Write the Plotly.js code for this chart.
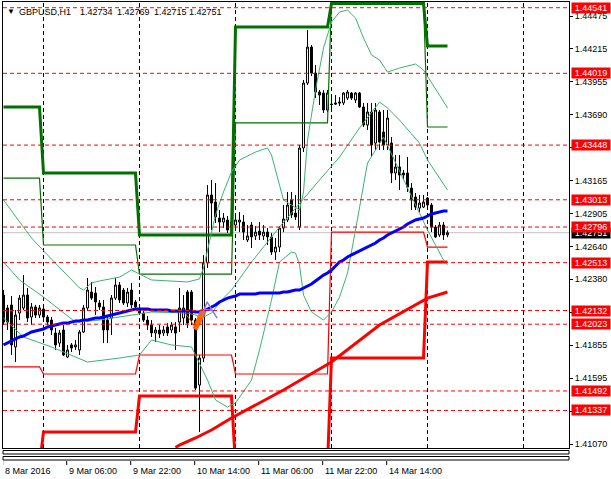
<!DOCTYPE html>
<html><head><meta charset="utf-8">
<script src="https://cdn.plot.ly/plotly-3.0.1.min.js"></script>
<style>html,body{margin:0;padding:0;background:#fff}#chart{width:611px;height:479px}</style>
</head><body><div id="chart"></div>
<script>
// ---- candle data (GBPUSD H1, bar 0 = 8 Mar 2016 14:00) ----
const open = [1.42255,1.42152,1.42176,1.41842,1.42112,1.42152,1.42255,1.42080,1.42160,1.42096,
1.42144,1.42080,1.42056,1.41953,1.41873,1.41977,1.41762,1.41858,1.41842,1.41818,
1.41961,1.42152,1.42279,1.42271,1.42192,1.42160,1.42056,1.42072,1.42231,1.42335,
1.42295,1.42192,1.42295,1.42200,1.42144,1.42112,1.42056,1.42016,1.41953,1.41977,
1.41953,1.42001,1.41977,1.42001,1.42040,1.42072,1.42279,1.42279,1.42056,1.41539,
1.41754,1.42510,1.43051,1.42995,1.42868,1.42836,1.42852,1.42836,1.42812,1.42836,
1.42836,1.42693,1.42812,1.42725,1.42764,1.42725,1.42756,1.42717,1.42597,1.42637,
1.42788,1.42852,1.43011,1.42907,1.42796,1.43425,1.43942,1.44228,1.44021,1.43870,
1.43862,1.43727,1.43775,1.43783,1.43791,1.43783,1.43822,1.43862,1.43807,1.43862,
1.43751,1.43608,1.43711,1.43464,1.43711,1.43552,1.43449,1.43464,1.43226,1.43274,
1.43226,1.43226,1.43106,1.43035,1.42947,1.42955,1.43027,1.42971,1.42796,1.42733,
1.42812,1.42734];
const high = [1.42295,1.42176,1.42247,1.42136,1.42255,1.42414,1.42311,1.42192,1.42176,1.42176,
1.42176,1.42096,1.42080,1.41993,1.41977,1.42016,1.41858,1.41873,1.41897,1.41977,
1.42176,1.42391,1.42359,1.42319,1.42216,1.42216,1.42096,1.42255,1.42391,1.42359,
1.42311,1.42311,1.42351,1.42216,1.42176,1.42136,1.42088,1.42056,1.42001,1.42016,
1.42009,1.42032,1.42040,1.42040,1.42311,1.42255,1.42295,1.42295,1.42072,1.41778,
1.42573,1.43130,1.43170,1.43146,1.42931,1.42907,1.42884,1.42915,1.42884,1.42915,
1.42892,1.42812,1.42836,1.42804,1.42836,1.42812,1.42788,1.42748,1.42709,1.42804,
1.42971,1.43075,1.43075,1.43051,1.43449,1.43966,1.44363,1.44244,1.44085,1.43886,
1.43886,1.43886,1.43830,1.43846,1.43830,1.43870,1.43886,1.43870,1.43870,1.43870,
1.43783,1.43783,1.43783,1.43783,1.43727,1.43727,1.43727,1.43512,1.43369,1.43369,
1.43250,1.43353,1.43146,1.43067,1.43051,1.43051,1.43035,1.42987,1.42812,1.42836,
1.42836,1.42769];
const low = [1.42016,1.41977,1.41778,1.41722,1.42056,1.42136,1.42040,1.42016,1.42072,1.42072,
1.42056,1.42016,1.41937,1.41818,1.41842,1.41770,1.41754,1.41802,1.41818,1.41778,
1.41953,1.42136,1.42216,1.42096,1.42136,1.41873,1.41873,1.41937,1.42216,1.42192,
1.42176,1.42160,1.42152,1.42136,1.42096,1.42040,1.41977,1.41921,1.41881,1.41913,
1.41929,1.41929,1.41953,1.41818,1.41961,1.42016,1.41993,1.42016,1.41500,1.41165,
1.41722,1.42470,1.42772,1.42828,1.42756,1.42788,1.42749,1.42756,1.42788,1.42756,
1.42693,1.42677,1.42629,1.42693,1.42693,1.42693,1.42653,1.42574,1.42534,1.42597,
1.42756,1.42836,1.42868,1.42852,1.42772,1.43393,1.43926,1.43997,1.43822,1.43767,
1.43703,1.43711,1.43711,1.43767,1.43759,1.43767,1.43807,1.43807,1.43783,1.43743,
1.43592,1.43568,1.43353,1.43409,1.43409,1.43409,1.43409,1.43146,1.43170,1.43091,
1.43170,1.43075,1.42931,1.42931,1.42915,1.42947,1.42947,1.42756,1.42709,1.42717,
1.42693,1.42715];
const close = [1.42040,1.42040,1.41858,1.42096,1.42231,1.42255,1.42072,1.42160,1.42096,1.42152,
1.42080,1.42040,1.41977,1.41858,1.41953,1.41778,1.41818,1.41834,1.41858,1.41961,
1.42152,1.42295,1.42231,1.42200,1.42160,1.41977,1.41977,1.42231,1.42335,1.42216,
1.42192,1.42279,1.42176,1.42160,1.42112,1.42056,1.42016,1.41953,1.41977,1.41945,
1.41977,1.41953,1.42016,1.41953,1.42152,1.42152,1.42032,1.42056,1.41515,1.41754,
1.42510,1.43051,1.42987,1.42876,1.42836,1.42868,1.42772,1.42788,1.42852,1.42852,
1.42756,1.42725,1.42717,1.42756,1.42733,1.42756,1.42717,1.42597,1.42637,1.42788,
1.42860,1.42971,1.42892,1.42876,1.43425,1.43942,1.44228,1.44021,1.43870,1.43846,
1.43727,1.43862,1.43771,1.43775,1.43783,1.43862,1.43870,1.43822,1.43862,1.43751,
1.43608,1.43711,1.43449,1.43727,1.43472,1.43449,1.43663,1.43226,1.43274,1.43210,
1.43210,1.43114,1.43011,1.42955,1.42987,1.42995,1.42971,1.42796,1.42717,1.42812,
1.42733,1.42751];

// ---- moving average (blue), one value per bar ----
const maBlue = [1.41858,1.41873,1.41889,1.41905,1.41921,1.41929,1.41945,1.41961,1.41969,1.41977,
1.41985,1.42001,1.42009,1.42017,1.42025,1.42032,1.42032,1.42040,1.42048,1.42048,
1.42056,1.42056,1.42064,1.42072,1.42072,1.42080,1.42088,1.42096,1.42104,1.42112,
1.42120,1.42128,1.42136,1.42144,1.42144,1.42144,1.42144,1.42136,1.42136,1.42136,
1.42136,1.42136,1.42128,1.42128,1.42128,1.42128,1.42128,1.42128,1.42120,1.42120,
1.42128,1.42144,1.42160,1.42176,1.42200,1.42216,1.42231,1.42239,1.42247,1.42263,
1.42263,1.42263,1.42263,1.42263,1.42271,1.42271,1.42271,1.42271,1.42271,1.42271,
1.42279,1.42279,1.42287,1.42295,1.42295,1.42311,1.42327,1.42343,1.42367,1.42391,
1.42414,1.42430,1.42454,1.42486,1.42518,1.42534,1.42558,1.42574,1.42589,1.42605,
1.42621,1.42637,1.42653,1.42669,1.42693,1.42709,1.42733,1.42749,1.42764,1.42780,
1.42796,1.42820,1.42836,1.42852,1.42860,1.42868,1.42884,1.42900,1.42908,1.42916,
1.42924,1.42924];

// ---- moving average (red), read at these bars ----
const maRedBars = [43,44,48,52,57,62,70,82,94,106,111];
const maRedVals = [1.41042,1.41062,1.41118,1.41181,1.41277,1.41364,1.41500,1.41722,1.42017,1.42231,1.42279];

// ---- Bollinger-type bands, read at these bars ----
const bbUpBars = [0,7,11,19,20,22,24,27,29,32,37,46,49,50,51,52,53,55,57,59,63,66,67,69,70,72,74,75,76,78,80,82,84,86,88,90,92,94,96,99,103,105,107,109,111];
const bbUpVals = [1.43011,1.42709,1.42574,1.42311,1.42295,1.42351,1.42367,1.42383,1.42398,1.42454,1.42375,1.42359,1.42383,1.42470,1.42613,1.42756,1.42892,1.43075,1.43234,1.43329,1.43393,1.43425,1.43369,1.43130,1.43011,1.42971,1.42931,1.43075,1.43488,1.43886,1.44220,1.44427,1.44507,1.44522,1.44459,1.44300,1.44165,1.44125,1.44029,1.44061,1.44093,1.44045,1.43950,1.43846,1.43743];
const bbMidBars = [0,4,10,14,18,24,32,37,46,50,52,55,57,62,69,74,79,84,89,94,96,99,104,106,110,111];
const bbMidVals = [1.42518,1.42375,1.42239,1.42136,1.42040,1.42056,1.42096,1.42120,1.42112,1.42080,1.42112,1.42231,1.42295,1.42518,1.42796,1.42987,1.43170,1.43353,1.43584,1.43790,1.43743,1.43647,1.43464,1.43329,1.43130,1.43091];
const bbLowBars = [0,5,12,21,29,34,37,42,47,49,51,53,56,58,62,64,67,69,72,73,74,75,77,80,82,84,86,88,91,95,102,106,110,111];
const bbLowVals = [1.42072,1.41921,1.41842,1.41722,1.41754,1.41778,1.41897,1.41858,1.41842,1.41714,1.41579,1.41420,1.41364,1.41396,1.41579,1.41818,1.42216,1.42518,1.42597,1.42589,1.42494,1.42255,1.42120,1.42056,1.42120,1.42239,1.42430,1.42772,1.43305,1.43512,1.43035,1.42772,1.42534,1.42494];

// ---- daily pivot-style levels (first bar of each day) ----
const dayStart = [0,10,34,58,82,106];
const levelR2 = [1.43751,1.43226,1.42733,1.44387,1.44574,1.44236];
const levelR1 = [1.43186,1.42653,1.42422,1.43624,1.44600,1.43592];
const levelS1 = [1.41683,1.41627,1.41778,1.41627,1.42756,1.42637];
const levelS2 = [1.40900,1.41165,1.41452,1.40900,1.41754,1.42518];

// ---- horizontal price levels and labels ----
const hLevels = [1.44541,1.44019,1.43448,1.43013,1.42796,1.42513,1.42132,1.42023,1.41492,1.41337];
const bidPrice = 1.42751;
const yTicks = [1.44475,1.44215,1.43955,1.43690,1.43430,1.43165,1.42905,1.42640,1.42380,1.42120,1.41855,1.41595,1.41330,1.41070];
const yTickShown = [1,1,1,1,0,1,1,1,1,0,1,1,0,1];
const timeTickBars = [0,16,32,48,64,80,96];
const timeTickLabels = ['8 Mar 2016','9 Mar 06:00','9 Mar 22:00','10 Mar 14:00','11 Mar 06:00','11 Mar 22:00','14 Mar 14:00'];
const daySepBars = [10,34,58,82,106,130];
const headerTexts = ['\u25BC','GBPUSD,H1','1.42734','1.42769','1.42715','1.42751'];

// ---- small drawn objects ----
const orangeLineX = [45.4,47.9]; const orangeLineY = [1.42112,1.42001];
const orangeFillX = [47.4,48.4,50.6,49.4,47.4]; const orangeFillY = [1.41993,1.41977,1.42120,1.42144,1.41993];
const purpleX = [49.6,50.9,53.4,null,50.1,52.6]; const purpleY = [1.42096,1.42200,1.42072,null,1.42144,1.42128];

const FONT = "'Liberation Sans',Arial,sans-serif";
const FS = 9;
const bars = open.map((_, i) => i);
const nBars = open.length;

function stepLine(levels){
  const xs=[], ys=[];
  levels.forEach((v,k)=>{
    const a = dayStart[k];
    const b = k+1 < dayStart.length ? dayStart[k+1]-1 : nBars-1;
    xs.push(a,b); ys.push(v,v);
  });
  return {x:xs, y:ys};
}
const r2=stepLine(levelR2), r1=stepLine(levelR1), s1=stepLine(levelS1), s2=stepLine(levelS2);
const GREEN='#007000', BB='#3CB371';

const traces = [
  {type:'candlestick', x:bars, open:open, high:high, low:low, close:close,
   increasing:{line:{color:'#000',width:1}, fillcolor:'#fff'},
   decreasing:{line:{color:'#000',width:1}, fillcolor:'#000'},
   whiskerwidth:0},
  {type:'scatter', mode:'lines', x:r2.x, y:r2.y, line:{color:GREEN,width:3}},
  {type:'scatter', mode:'lines', x:r1.x, y:r1.y, line:{color:GREEN,width:1.2}},
  {type:'scatter', mode:'lines', x:s1.x, y:s1.y, line:{color:'#FF0000',width:1.2}},
  {type:'scatter', mode:'lines', x:s2.x, y:s2.y, line:{color:'#FF0000',width:3}},
  {type:'scatter', mode:'lines', x:bbUpBars, y:bbUpVals, line:{color:BB,width:1}},
  {type:'scatter', mode:'lines', x:bbMidBars, y:bbMidVals, line:{color:BB,width:1}},
  {type:'scatter', mode:'lines', x:bbLowBars, y:bbLowVals, line:{color:BB,width:1}},
  {type:'scatter', mode:'lines', x:maRedBars, y:maRedVals, line:{color:'#FF0000',width:3}},
  {type:'scatter', mode:'lines', x:bars, y:maBlue, line:{color:'#0000FF',width:3}},
  {type:'scatter', mode:'lines', x:orangeLineX, y:orangeLineY, line:{color:'#FF6600',width:1}},
  {type:'scatter', mode:'lines', x:orangeFillX, y:orangeFillY, fill:'toself', fillcolor:'#FF6600', line:{color:'#FF6600',width:1}},
  {type:'scatter', mode:'lines', x:purpleX, y:purpleY, line:{color:'#8877EE',width:1.5}, connectgaps:false}
].map(t=>Object.assign({showlegend:false, hoverinfo:'skip'}, t));

const pxH = 446; // plot height in px (for paper offsets)
const shapes = [];
daySepBars.forEach(b=>shapes.push({type:'line', xref:'x', yref:'paper', x0:b, x1:b, y0:0, y1:1,
  line:{color:'#000', width:1, dash:'4px,3px'}, layer:'below'}));
shapes.push({type:'line', xref:'paper', yref:'y', x0:0, x1:1, y0:bidPrice, y1:bidPrice,
  line:{color:'#C0C0C0', width:1}, layer:'below'});
hLevels.forEach(v=>shapes.push({type:'line', xref:'paper', yref:'y', x0:0, x1:1, y0:v, y1:v,
  line:{color:'#FF0000', width:1, dash:'4px,3px'}, layer:'above'}));
// collapsed sub-window frames below the chart
[[2.5,6],[8.5,12]].forEach(([a,b])=>shapes.push({type:'rect', xref:'paper', yref:'paper', x0:0, x1:1,
  y0:-a/pxH, y1:-b/pxH, line:{color:'#000', width:1}, fillcolor:'rgba(0,0,0,0)'}));
timeTickBars.forEach(b=>shapes.push({type:'line', xref:'x', yref:'paper', x0:b-0.2, x1:b-0.2,
  y0:-13/pxH, y1:-17/pxH, line:{color:'#000', width:1}}));

const annotations = [];
// header pieces (left edges in px)
const headerPx = [5,17,78,115,152,187];
headerTexts.forEach((t,k)=>annotations.push({xref:'paper', yref:'paper', x:0, y:1, xanchor:'left', yanchor:'top',
  xshift:headerPx[k]-3, yshift:-3, text:t, showarrow:false,
  font:{family:FONT, size:(k===0?8:FS), color:'#000'}}));
timeTickLabels.forEach((t,k)=>annotations.push({xref:'x', yref:'paper', x:timeTickBars[k], y:0,
  xanchor:'left', yanchor:'top', xshift:-1, yshift:-16, text:t, showarrow:false,
  font:{family:FONT, size:FS, color:'#000'}}));
annotations.push({xref:'paper', yref:'y', x:1, y:bidPrice, xanchor:'left', yanchor:'middle',
  xshift:2, text:bidPrice.toFixed(5), showarrow:false, bgcolor:'#000', borderpad:0, width:38, height:10,
  font:{family:FONT, size:FS, color:'#fff'}});
hLevels.forEach(v=>annotations.push({xref:'paper', yref:'y', x:1, y:v, xanchor:'left', yanchor:'middle',
  xshift:2, text:v.toFixed(5), showarrow:false, bgcolor:'#FF0000', borderpad:0, width:38, height:10,
  font:{family:FONT, size:FS, color:'#fff'}}));

const layout = {
  width:611, height:479,
  margin:{l:3, r:42, t:2, b:31, pad:0},
  paper_bgcolor:'#fff', plot_bgcolor:'#fff',
  showlegend:false,
  xaxis:{range:[-0.125,141.375], showgrid:false, zeroline:false, showline:true, linecolor:'#000',
    linewidth:1, mirror:true, ticks:'', showticklabels:false, rangeslider:{visible:false}, fixedrange:true},
  yaxis:{side:'right', range:[1.410382,1.445864], showgrid:false, zeroline:false, showline:true,
    linecolor:'#000', linewidth:1, mirror:true, ticks:'outside', ticklen:3, tickcolor:'#000',
    tickvals:yTicks, ticktext:yTicks.map((v,k)=>yTickShown[k]?v.toFixed(5):''),
    tickfont:{family:FONT, size:FS, color:'#000'}, fixedrange:true},
  shapes:shapes, annotations:annotations
};
Plotly.newPlot('chart', traces, layout, {staticPlot:true, displayModeBar:false});
</script></body></html>
